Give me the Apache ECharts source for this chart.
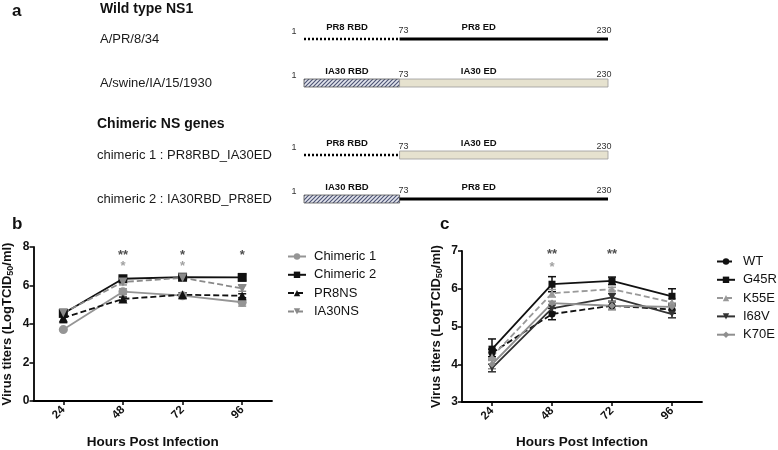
<!DOCTYPE html>
<html><head><meta charset="utf-8">
<script src="https://cdn.jsdelivr.net/npm/echarts@6/dist/echarts.min.js"></script>
<style>html,body{margin:0;padding:0;background:#fff}#c{width:778px;height:450px}</style>
</head><body><div id="c"></div>
<script>
// ---------- Panel a data ----------
const wildRows = ['A/PR/8/34', 'A/swine/IA/15/1930'];
const chimRows = ['chimeric 1 : PR8RBD_IA30ED', 'chimeric 2 : IA30RBD_PR8ED'];
// [start, end, rowIndex, strain, domain]
const wildSegments = [[1,73,0,'PR8','RBD'],[73,230,0,'PR8','ED'],[1,73,1,'IA30','RBD'],[73,230,1,'IA30','ED']];
const chimSegments = [[1,73,0,'PR8','RBD'],[73,230,0,'IA30','ED'],[1,73,1,'IA30','RBD'],[73,230,1,'PR8','ED']];

// ---------- Panel b data ----------
const hours = ['24','48','72','96'];
const bNames = ['Chimeric 1','Chimeric 2','PR8NS','IA30NS'];
const chim1 = [3.71, 5.68, 5.47, 5.13];
const chim2 = [4.55, 6.35, 6.43, 6.42];
const pr8ns = [4.32, 5.3, 5.52, 5.47];
const ia30ns = [4.58, 6.18, 6.4, 5.85];
const chim1Err = [0.05, 0.15, 0.15, 0.2];
const chim2Err = [0.1, 0.1, 0.12, 0.15];
const pr8nsErr = [0.25, 0.1, 0.1, 0.1];
const ia30nsErr = [0.1, 0.15, 0.15, 0.15];
const bStarsBlack = [['48', '**'], ['72', '*'], ['96', '*']];
const bStarsGray = [['48', '*'], ['72', '*']];

// ---------- Panel c data ----------
const cNames = ['WT','G45R','K55E','I68V','K70E'];
const wt   = [4.3, 5.33, 5.55, 5.45];
const g45r = [4.4, 6.12, 6.21, 5.8];
const k55e = [4.2, 5.88, 5.99, 5.64];
const i68v = [3.9, 5.48, 5.77, 5.33];
const k70e = [4.0, 5.62, 5.55, 5.52];
const wtErr   = [0.1, 0.15, 0.1, 0.1];
const g45rErr = [0.27, 0.2, 0.1, 0.2];
const k55eErr = [0.1, 0.1, 0.05, 0.1];
const i68vErr = [0.1, 0.1, 0.1, 0.1];
const k70eErr = [0.12, 0.05, 0.1, 0.1];
const cStarsBlack = [['48', '**'], ['72', '**']];
const cStarsGray = [['48', '*']];

const FONT = "'Liberation Sans', Arial, sans-serif";
const BLACK = '#111', GRAY = '#8f8f8f', DGRAY = '#333';

// hatch pattern
const hc = document.createElement('canvas');
hc.width = 4; hc.height = 4;
const hx = hc.getContext('2d');
hx.fillStyle = '#e4e6ee'; hx.fillRect(0,0,4,4);
hx.strokeStyle = '#4e5577'; hx.lineWidth = 1.2;
hx.beginPath(); hx.moveTo(-1,5); hx.lineTo(5,-1); hx.moveTo(-1,1); hx.lineTo(1,-1); hx.moveTo(3,5); hx.lineTo(5,3); hx.stroke();

function segRender(params, api) {
  const s = api.value(0), e = api.value(1), r = api.value(2);
  const strain = api.value(3), dom = api.value(4);
  const p0 = api.coord([s, r]), p1 = api.coord([e, r]);
  const y = p0[1];
  const ch = [];
  if (strain === 'PR8') {
    ch.push({type:'line', shape:{x1:p0[0], y1:y, x2:p1[0], y2:y},
      style:{stroke:'#000', lineWidth: dom==='RBD'?2.5:3, lineDash: dom==='RBD'?[2,2]:null}});
  } else {
    ch.push({type:'rect', shape:{x:p0[0], y:y-4, width:p1[0]-p0[0], height:8},
      style:{fill: dom==='RBD' ? {image: hc, repeat:'repeat'} : '#e6e2cf', stroke: dom==='RBD'?'#555':'#999', lineWidth:0.8}});
  }
  const frac = dom === 'RBD' ? 0.45 : 0.38;
  ch.push({type:'text', style:{text: strain + ' ' + dom, x: p0[0] + (p1[0]-p0[0])*frac, y: y-7,
    align:'center', verticalAlign:'bottom', font:'bold 9.5px ' + FONT, fill:'#111'}});
  if (dom === 'RBD') {
    ch.push({type:'text', style:{text: String(s), x: p0[0]-10, y: y-3, align:'center', verticalAlign:'bottom', font:'9px '+FONT, fill:'#333'}});
    ch.push({type:'text', style:{text: String(e), x: p1[0]+4, y: y-4, align:'center', verticalAlign:'bottom', font:'9px '+FONT, fill:'#333'}});
  } else {
    ch.push({type:'text', style:{text: String(e), x: p1[0]-4, y: y-4, align:'center', verticalAlign:'bottom', font:'9px '+FONT, fill:'#333'}});
  }
  return {type:'group', children: ch};
}

function errSeries(name, vals, errs, color, xi, yi) {
  return {
    type:'custom', name: name + ' err', xAxisIndex: xi, yAxisIndex: yi, z: 3,
    data: vals.map((v,i)=>[i, v, errs[i]]),
    encode:{x:0, y:1},
    renderItem: function(params, api){
      const i = api.value(0), v = api.value(1), e = api.value(2);
      const t = api.coord([i, v+e]), b = api.coord([i, v-e]);
      const w = 4;
      const st = {stroke: color, lineWidth: 1.5};
      return {type:'group', children:[
        {type:'line', shape:{x1:t[0], y1:t[1], x2:b[0], y2:b[1]}, style: st},
        {type:'line', shape:{x1:t[0]-w, y1:t[1], x2:t[0]+w, y2:t[1]}, style: st},
        {type:'line', shape:{x1:b[0]-w, y1:b[1], x2:b[0]+w, y2:b[1]}, style: st}
      ]};
    }
  };
}

function lineSeries(name, vals, color, dashed, symbol, size, xi, yi, rot) {
  return {
    type:'line', name, xAxisIndex: xi, yAxisIndex: yi, data: vals, z: 4,
    symbol, symbolSize: size, symbolRotate: rot || 0, showSymbol: true,
    lineStyle:{color, width: 1.8, type: dashed ? [6,3] : 'solid'},
    itemStyle:{color}, animation:false
  };
}

function starSeries(list, yv, color, xi, yi) {
  return {
    type:'scatter', xAxisIndex: xi, yAxisIndex: yi, symbolSize: 0, silent:true,
    data: list.map(s=>({value:[s[0], yv], txt:s[1]})),
    label:{show:true, position:'inside', formatter: p => p.data.txt, color, fontSize: 13, fontWeight:'bold', fontFamily: FONT},
    animation:false
  };
}

const valAxisCommon = {
  type:'value',
  axisLine:{show:true, lineStyle:{color:'#000', width:1.8}},
  axisTick:{show:true, length:4, lineStyle:{color:'#000', width:1.5}},
  splitLine:{show:false},
  axisLabel:{color:'#111', fontWeight:'bold', fontSize:12, fontFamily: FONT, margin:4},
  nameLocation:'middle', nameRotate:90,
  name:'{a|Virus titers (LogTCID}{s|50}{a|/ml)}',
  nameTextStyle:{rich:{a:{fontWeight:'bold', fontSize:13, fontFamily:FONT, color:'#111'},
                       s:{fontWeight:'bold', fontSize:9, fontFamily:FONT, color:'#111', padding:[0,0,0,0], verticalAlign:'bottom', lineHeight:16}}}
};
const catAxisCommon = {
  type:'category', data: hours, boundaryGap:true,
  axisLine:{show:true, lineStyle:{color:'#000', width:1.8}},
  axisTick:{show:true, alignWithLabel:true, length:4, lineStyle:{color:'#000', width:1.5}},
  axisLabel:{rotate:45, color:'#111', fontWeight:'bold', fontSize:11.5, fontFamily:FONT, margin:7},
  name:'Hours Post Infection', nameLocation:'middle', nameGap:34,
  nameTextStyle:{fontWeight:'bold', fontSize:13.5, fontFamily:FONT, color:'#111'}
};
const rowAxis = (data, margin) => ({
  type:'category', data, inverse:true,
  axisLine:{show:false}, axisTick:{show:false}, splitLine:{show:false},
  axisLabel:{align:'left', margin, fontSize:13, fontFamily:FONT, color:'#1a1a1a'}
});
const hiddenX = (gi) => ({type:'value', gridIndex: gi, min:1, max:230, show:false});
const titleStyle = (size) => ({fontSize:size, fontWeight:'bold', color:'#111', fontFamily:FONT});

const option = {
  animation:false,
  textStyle:{fontFamily: FONT},
  title:[
    {text:'a', left:12, top:3, padding:0, textStyle:titleStyle(17)},
    {text:'Wild type NS1', left:100, top:2, padding:0, textStyle:titleStyle(14)},
    {text:'Chimeric NS genes', left:97, top:117, padding:0, textStyle:titleStyle(14)},
    {text:'b', left:12, top:216, padding:0, textStyle:titleStyle(17)},
    {text:'c', left:440, top:216, padding:0, textStyle:titleStyle(17)}
  ],
  grid:[
    {left:304, width:304, top:17, height:88},
    {left:304, width:304, top:133, height:88},
    {left:32, width:240, top:247, height:158},
    {left:462, width:240, top:251, height:159}
  ],
  xAxis:[
    hiddenX(0), hiddenX(1),
    Object.assign({}, catAxisCommon, {gridIndex:2}),
    Object.assign({}, catAxisCommon, {gridIndex:3, nameGap:33})
  ],
  yAxis:[
    Object.assign(rowAxis(wildRows, 204), {gridIndex:0}),
    Object.assign(rowAxis(chimRows, 207), {gridIndex:1}),
    Object.assign({}, valAxisCommon, {gridIndex:2, min:0, max:8, interval:2, nameGap:18}),
    Object.assign({}, valAxisCommon, {gridIndex:3, min:3, max:7, interval:1, nameGap:18})
  ],
  legend:[
    {data: bNames, left:287, top:250, padding:0, orient:'vertical', itemWidth:18, itemHeight:8, itemGap:5.3,
     textStyle:{fontSize:13, color:'#111', fontFamily:FONT, padding:[0,0,0,3]}},
    {data: cNames, left:716, top:255, padding:0, orient:'vertical', itemWidth:18, itemHeight:8, itemGap:5.3,
     textStyle:{fontSize:13, color:'#111', fontFamily:FONT, padding:[0,0,0,3]}}
  ],
  series:[
    {type:'custom', xAxisIndex:0, yAxisIndex:0, data: wildSegments, encode:{x:[0,1], y:2}, renderItem: segRender},
    {type:'custom', xAxisIndex:1, yAxisIndex:1, data: chimSegments, encode:{x:[0,1], y:2}, renderItem: segRender},

    errSeries('Chimeric 1', chim1, chim1Err, GRAY, 2, 2),
    errSeries('Chimeric 2', chim2, chim2Err, BLACK, 2, 2),
    errSeries('PR8NS', pr8ns, pr8nsErr, BLACK, 2, 2),
    errSeries('IA30NS', ia30ns, ia30nsErr, GRAY, 2, 2),
    lineSeries('Chimeric 1', chim1, '#959595', false, 'circle', 9, 2, 2),
    lineSeries('Chimeric 2', chim2, BLACK, false, 'rect', 9, 2, 2),
    lineSeries('PR8NS', pr8ns, BLACK, true, 'triangle', 9, 2, 2),
    lineSeries('IA30NS', ia30ns, '#8a8a8a', true, 'triangle', 9, 2, 2, 180),
    starSeries(bStarsBlack, 7.58, '#222', 2, 2),
    starSeries(bStarsGray, 6.98, '#8a8a8a', 2, 2),

    errSeries('WT', wt, wtErr, BLACK, 3, 3),
    errSeries('G45R', g45r, g45rErr, BLACK, 3, 3),
    errSeries('K55E', k55e, k55eErr, '#999', 3, 3),
    errSeries('I68V', i68v, i68vErr, DGRAY, 3, 3),
    errSeries('K70E', k70e, k70eErr, GRAY, 3, 3),
    lineSeries('WT', wt, BLACK, true, 'circle', 7, 3, 3),
    lineSeries('G45R', g45r, BLACK, false, 'rect', 7, 3, 3),
    lineSeries('K55E', k55e, '#999', true, 'triangle', 7, 3, 3),
    lineSeries('I68V', i68v, DGRAY, false, 'triangle', 7, 3, 3, 180),
    lineSeries('K70E', k70e, GRAY, false, 'diamond', 7, 3, 3),
    starSeries(cStarsBlack, 6.9, '#222', 3, 3),
    starSeries(cStarsGray, 6.56, '#8a8a8a', 3, 3)
  ]
};
const chart = echarts.init(document.getElementById('c'), null, {renderer:'canvas'});
chart.setOption(option);
</script>
</body></html>
